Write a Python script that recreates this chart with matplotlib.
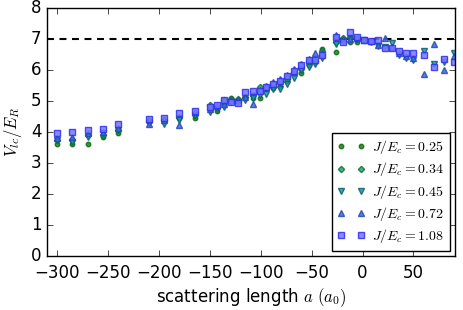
import matplotlib
matplotlib.use("Agg")
import matplotlib.pyplot as plt

plt.style.use('classic')
plt.rcParams['font.size'] = 12
plt.rcParams['mathtext.fontset'] = 'cm'

# scattering length (a0)
a_all = [-300, -285, -270, -255, -240, -210, -195, -180, -165, -150, -143, -136,
         -129, -122, -115, -108, -101, -95, -88, -81, -74, -67, -60, -53, -47, -40,
         -26, -19, -12, -5, 1, 8, 15, 22, 29, 36, 43, 50, 60, 70, 80, 90]
a_low = a_all[:30]

v_025 = [3.60, 3.60, 3.63, 3.85, 3.96, 4.39, 4.39, 4.44, 4.46, 4.80, 4.69, 4.98,
         5.10, 5.02, 5.14, 5.09, 5.09, 5.40, 5.41, 5.50, 5.65, 5.90, 5.91, 6.15,
         6.25, 6.67, 6.57, 7.00, 6.91, 6.91]
v_034 = [3.76, 3.74, 3.90, 3.90, 4.06, 4.33, 4.40, 4.47, 4.55, 4.87, 4.82, 5.05,
         5.08, 5.06, 5.14, 5.19, 5.46, 5.45, 5.45, 5.62, 5.72, 5.90, 6.05, 6.25,
         6.30, 6.60, 6.90, 7.05, 7.05, 7.00]
v_045 = [3.76, 3.69, 3.85, 3.96, 4.06, 4.30, 4.26, 4.39, 4.55, 4.66, 4.76, 4.80,
         4.98, 4.98, 5.03, 5.10, 5.20, 5.23, 5.40, 5.40, 5.55, 5.76, 6.00, 6.11,
         6.20, 6.38, 6.85, 6.95, 7.00, 6.99, 6.97, 6.92, 6.78, 6.75, 6.86, 6.47,
         6.38, 6.32, 6.62, 6.21, 6.25, 6.54]
v_072 = [3.80, 3.85, 3.96, 4.01, 4.12, 4.26, 4.39, 4.23, 4.65, 4.76, 4.84, 4.90,
         5.03, 5.03, 5.14, 4.90, 5.35, 5.48, 5.60, 5.72, 5.85, 6.05, 6.20, 6.35,
         6.54, 6.54, 7.13, 6.99, 7.00, 7.02, 6.97, 6.95, 6.80, 7.02, 6.75, 6.55,
         6.45, 6.40, 5.86, 6.84, 6.00, 6.45]
v_108 = [3.96, 3.99, 4.06, 4.09, 4.26, 4.42, 4.44, 4.60, 4.69, 4.82, 4.86, 5.03,
         4.98, 4.95, 5.28, 5.33, 5.31, 5.45, 5.56, 5.66, 5.81, 5.96, 6.16, 6.32,
         6.32, 6.48, 7.08, 6.90, 7.22, 7.08, 6.97, 6.95, 6.96, 6.71, 6.72, 6.62,
         6.56, 6.54, 6.48, 6.10, 6.36, 6.25]

labels = [r'$J/E_c=$$0.25$', r'$J/E_c=$$0.34$', r'$J/E_c=$$0.45$',
          r'$J/E_c=$$0.72$', r'$J/E_c=$$1.08$']

fig = plt.figure(figsize=(4.63, 3.10), dpi=100, facecolor='white')
ax = fig.add_axes([0.1015, 0.174, 0.8815, 0.80])
ax.set_facecolor('white')

ax.axhline(7, color='black', ls='--', lw=1.5, dashes=(5, 4))

styles = [
    dict(marker='o', ms=3.2, mfc='#118811', mec='#0b6b0b'),
    dict(marker='D', ms=3.2, mfc='#22aa66', mec='#107040'),
    dict(marker='v', ms=4.2, mfc='#1a9aaa', mec='#0f5f70'),
    dict(marker='^', ms=4.2, mfc='#3a6ae6', mec='#2a4ab0'),
    dict(marker='s', ms=4.2, mfc='#7878ff', mec='#3030ee'),
]
series = [(a_low, v_025), (a_low, v_034), (a_all, v_045), (a_all, v_072), (a_all, v_108)]
for (x, y), st, lab in zip(series, styles, labels):
    ax.plot(x, y, ls='none', mew=1, alpha=0.85, label=lab, **st)

ax.set_xlim(-310, 91)
ax.set_ylim(0, 8)
ax.set_xticks([-300, -250, -200, -150, -100, -50, 0, 50])
ax.set_yticks(range(0, 9))
ax.tick_params(axis='x', pad=6)
ax.set_xlabel(r'scattering length $a$ $(a_0)$', fontsize=12, labelpad=3)
ax.set_ylabel(r'$V_{lc}/E_R$', fontsize=12)

leg = ax.legend(loc='lower right', numpoints=2, fontsize=10, frameon=True,
                fancybox=False, borderaxespad=0.4, labelspacing=0.3,
                handlelength=2.0, handletextpad=0.5)
leg.get_frame().set_edgecolor('black')

fig.savefig('out.png', dpi=100, facecolor='white')
